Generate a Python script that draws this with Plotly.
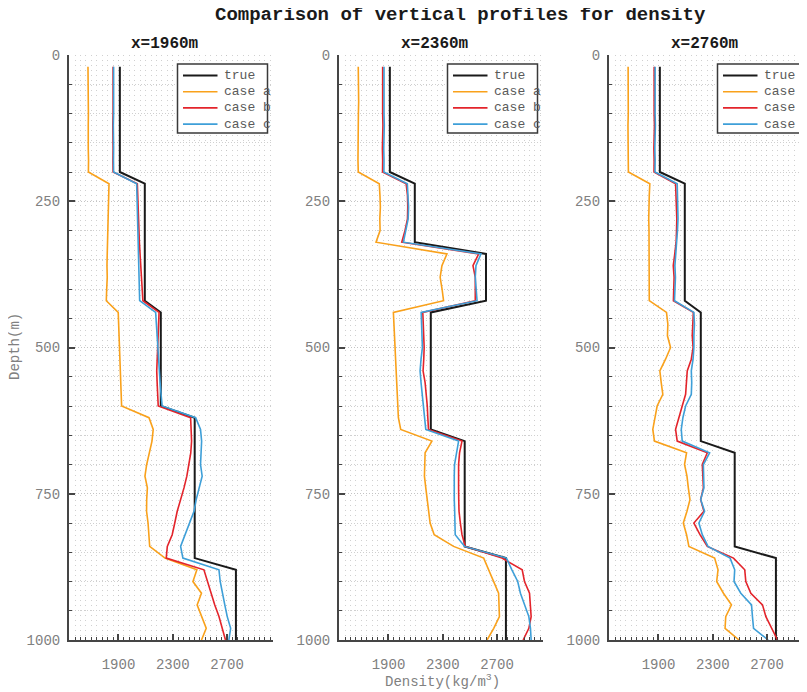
import plotly.graph_objects as go

# ---------------- data ----------------
depth = [20, 40, 60, 80, 100, 120, 140, 160, 180, 200,
         220, 240, 260, 280, 300, 320, 340, 360, 380, 400,
         420, 440, 460, 480, 500, 520, 540, 560, 580, 600,
         620, 640, 660, 680, 700, 720, 740, 760, 780, 800,
         820, 840, 860, 880, 900, 920, 940, 960, 980, 1000]

panel_titles = ["x=1960m", "x=2360m", "x=2760m"]
series_names = ["true", "case a", "case b", "case c"]

true_1960 = [1910, 1910, 1910, 1910, 1910, 1910, 1910, 1910, 1910, 1910,
             2094, 2094, 2094, 2094, 2094, 2094, 2094, 2094, 2094, 2094,
             2094, 2212, 2212, 2212, 2212, 2212, 2212, 2212, 2212, 2212,
             2462, 2462, 2462, 2462, 2462, 2462, 2462, 2462, 2462, 2462,
             2462, 2462, 2462, 2766, 2766, 2766, 2766, 2766, 2766, 2766]
a_1960 = [1675, 1677, 1677, 1679, 1678, 1677, 1675, 1677, 1679, 1678,
          1830, 1827, 1824, 1822, 1820, 1818, 1817, 1815, 1817, 1813,
          1810, 1898, 1901, 1903, 1906, 1909, 1911, 1916, 1921, 1923,
          2125, 2156, 2147, 2125, 2108, 2095, 2113, 2108, 2107, 2118,
          2123, 2130, 2243, 2478, 2449, 2512, 2480, 2515, 2547, 2512]
b_1960 = [1860, 1861, 1860, 1859, 1860, 1858, 1861, 1860, 1859, 1860,
          2039, 2041, 2044, 2049, 2051, 2054, 2059, 2064, 2069, 2074,
          2080, 2199, 2195, 2192, 2187, 2186, 2182, 2185, 2189, 2193,
          2432, 2438, 2439, 2433, 2419, 2404, 2383, 2359, 2333, 2315,
          2296, 2260, 2252, 2530, 2556, 2579, 2610, 2641, 2665, 2689]
c_1960 = [1864, 1865, 1864, 1863, 1864, 1862, 1865, 1864, 1863, 1864,
          2034, 2036, 2039, 2039, 2041, 2042, 2044, 2047, 2049, 2052,
          2056, 2174, 2179, 2182, 2187, 2192, 2197, 2207, 2214, 2222,
          2469, 2505, 2513, 2507, 2505, 2517, 2493, 2473, 2457, 2423,
          2390, 2358, 2375, 2641, 2650, 2665, 2684, 2702, 2727, 2714]

true_2360 = [1910, 1910, 1910, 1910, 1910, 1910, 1910, 1910, 1910, 1910,
             2094, 2094, 2094, 2094, 2094, 2094, 2619, 2619, 2619, 2619,
             2619, 2212, 2212, 2212, 2212, 2212, 2212, 2212, 2212, 2212,
             2212, 2212, 2462, 2462, 2462, 2462, 2462, 2462, 2462, 2462,
             2462, 2462, 2766, 2766, 2766, 2766, 2766, 2766, 2766, 2766]
a_2360 = [1677, 1679, 1676, 1680, 1678, 1676, 1679, 1677, 1675, 1677,
          1832, 1837, 1840, 1836, 1838, 1808, 2331, 2294, 2281, 2295,
          2306, 1936, 1940, 1945, 1948, 1950, 1955, 1960, 1965, 1970,
          1973, 1990, 2220, 2170, 2168, 2165, 2175, 2187, 2195, 2207,
          2237, 2380, 2602, 2640, 2676, 2712, 2715, 2718, 2676, 2627]
b_2360 = [1857, 1856, 1858, 1855, 1857, 1859, 1856, 1855, 1857, 1856,
          2030, 2040, 2042, 2040, 2022, 1998, 2565, 2523, 2540, 2538,
          2540, 2153, 2158, 2160, 2163, 2160, 2155, 2170, 2180, 2186,
          2190, 2195, 2442, 2424, 2417, 2415, 2417, 2418, 2420, 2430,
          2442, 2466, 2737, 2886, 2903, 2940, 2945, 2952, 2935, 2893]
c_2360 = [1867, 1866, 1868, 1865, 1867, 1869, 1866, 1865, 1867, 1866,
          2039, 2045, 2048, 2045, 2030, 2010, 2582, 2545, 2540, 2545,
          2553, 2141, 2145, 2148, 2150, 2140, 2133, 2140, 2150, 2158,
          2165, 2175, 2417, 2400, 2387, 2385, 2383, 2385, 2388, 2390,
          2392, 2461, 2770, 2810, 2853, 2873, 2905, 2935, 2947, 2952]

true_2760 = [1910, 1910, 1910, 1910, 1910, 1910, 1910, 1910, 1910, 1910,
             2094, 2094, 2094, 2094, 2094, 2094, 2094, 2094, 2094, 2094,
             2094, 2212, 2212, 2212, 2212, 2212, 2212, 2212, 2212, 2212,
             2212, 2212, 2212, 2462, 2462, 2462, 2462, 2462, 2462, 2462,
             2462, 2462, 2766, 2766, 2766, 2766, 2766, 2766, 2766, 2766]
a_2760 = [1676, 1677, 1678, 1676, 1677, 1675, 1674, 1676, 1677, 1678,
          1836, 1832, 1828, 1828, 1830, 1830, 1831, 1832, 1833, 1832,
          1832, 1959, 1969, 1966, 1989, 1952, 1910, 1920, 1932, 1890,
          1875, 1858, 1870, 2107, 2092, 2110, 2120, 2132, 2110, 2083,
          2107, 2124, 2314, 2339, 2329, 2379, 2438, 2396, 2391, 2494]
b_2760 = [1868, 1867, 1869, 1866, 1868, 1870, 1867, 1866, 1868, 1867,
          2026, 2030, 2033, 2035, 2033, 2030, 2020, 2009, 2015, 2012,
          2010, 2157, 2152, 2149, 2155, 2142, 2112, 2105, 2100, 2075,
          2050, 2026, 2038, 2260, 2223, 2228, 2231, 2211, 2235, 2161,
          2206, 2260, 2453, 2536, 2544, 2581, 2667, 2692, 2734, 2778]
c_2760 = [1875, 1874, 1876, 1873, 1875, 1877, 1874, 1873, 1875, 1874,
          2038, 2040, 2042, 2044, 2040, 2035, 2028, 2021, 2025, 2020,
          2018, 2161, 2165, 2161, 2161, 2155, 2142, 2145, 2142, 2100,
          2080, 2068, 2075, 2277, 2231, 2233, 2235, 2211, 2240, 2198,
          2223, 2265, 2428, 2462, 2457, 2507, 2586, 2593, 2601, 2709]

x_ticks = [1900, 2300, 2700]
y_ticks = [0, 250, 500, 750, 1000]

panels = [
    [true_1960, a_1960, b_1960, c_1960],
    [true_2360, a_2360, b_2360, c_2360],
    [true_2760, a_2760, b_2760, c_2760],
]

# ---------------- style ----------------
WIN_W, WIN_H = 807, 692
OFF = 8                      # page body margin
W, H = WIN_W - OFF, WIN_H - OFF
colors = ["#1a1a1a", "#f9a11b", "#e3242b", "#3e9fd8"]
widths = [2.0, 1.6, 1.6, 1.6]
mono = "Liberation Mono, Courier New, monospace"
axis_col = "#454545"
tick_font = dict(family=mono, size=14, color="#808080")
grid_major = "#c4c4c4"
grid_minor = "#d0d0d0"

ax_left = [69, 339, 609]      # window pixel coordinates
ax_width = 204
x_lo = 1535
px_per_unit = 0.1356
y_top, y_bot = 55, 640


def fx(px):
    return (px - OFF) / W


def fy(py):
    return 1 - (py - OFF) / H


fig = go.Figure()
layout = dict(
    width=W, height=H,
    paper_bgcolor="white", plot_bgcolor="white",
    margin=dict(l=0, r=0, t=0, b=0, autoexpand=False),
    showlegend=False,
)

shapes = []
annotations = []

for i, series in enumerate(panels):
    xa = "xaxis" if i == 0 else f"xaxis{i+1}"
    ya = "yaxis" if i == 0 else f"yaxis{i+1}"
    xr = "x" if i == 0 else f"x{i+1}"
    yr = "y" if i == 0 else f"y{i+1}"
    left = ax_left[i]
    right = min(left + ax_width, WIN_W)
    x_hi = x_lo + (right - left) / px_per_unit

    for k, vals in enumerate(series):
        fig.add_trace(go.Scatter(
            x=vals, y=depth, mode="lines", name=series_names[k],
            line=dict(color=colors[k], width=widths[k]),
            xaxis=xr, yaxis=yr, showlegend=False,
        ))

    layout[xa] = dict(
        domain=[fx(left), min(fx(right), 1.0)], range=[x_lo, x_hi], anchor=yr,
        tickvals=x_ticks, ticks="inside", ticklen=6, tickwidth=1.5,
        tickcolor=axis_col, showline=True, linecolor=axis_col, linewidth=2,
        showgrid=True, gridcolor=grid_major, gridwidth=1, griddash="1px,4px",
        zeroline=False, tickfont=tick_font, ticklabelstandoff=10,
        minor=dict(tick0=1900, dtick=40, ticks="inside", ticklen=3,
                   tickwidth=1, tickcolor=axis_col, showgrid=True,
                   gridcolor=grid_minor, gridwidth=1, griddash="1px,4px"),
    )
    layout[ya] = dict(
        domain=[fy(y_bot), fy(y_top)], range=[1000, 0], anchor=xr,
        tickvals=y_ticks, ticks="inside", ticklen=6, tickwidth=1.5,
        tickcolor=axis_col, showline=True, linecolor=axis_col, linewidth=2,
        showgrid=True, gridcolor=grid_major, gridwidth=1, griddash="1px,2px",
        zeroline=False, tickfont=tick_font, ticklabelstandoff=4,
        minor=dict(dtick=50, ticks="inside", ticklen=3, tickwidth=1,
                   tickcolor=axis_col, showgrid=True, gridcolor=grid_minor,
                   gridwidth=1, griddash="1px,2px"),
    )

    # subplot title
    annotations.append(dict(
        text=f"<b>{panel_titles[i]}</b>", x=fx(left + ax_width / 2 - 6), y=fy(44),
        xref="paper", yref="paper", showarrow=False, xanchor="center",
        yanchor="middle", font=dict(family=mono, size=16, color="#1a1a1a"),
    ))

    # legend box
    lb_l = left + 108.5
    lb_r = lb_l + 90
    shapes.append(dict(type="rect", xref="paper", yref="paper",
                       x0=fx(lb_l), x1=fx(lb_r), y0=fy(133), y1=fy(64),
                       line=dict(color="#3a3a3a", width=1.5),
                       fillcolor="white", layer="above"))
    for k in range(4):
        yy = 75.5 + 16.2 * k
        shapes.append(dict(type="line", xref="paper", yref="paper",
                           x0=fx(lb_l + 5.5), x1=fx(lb_l + 40),
                           y0=fy(yy), y1=fy(yy),
                           line=dict(color=colors[k], width=widths[k]),
                           layer="above"))
        annotations.append(dict(
            text=series_names[k], x=fx(lb_l + 44.5), y=fy(yy),
            xref="paper", yref="paper", showarrow=False,
            xanchor="left", yanchor="middle",
            font=dict(family=mono, size=13, color="#5a5a5a"),
        ))

# main title and axis titles
annotations.append(dict(
    text="<b>Comparison of vertical profiles for density</b>",
    x=fx(460), y=fy(15), xref="paper", yref="paper", showarrow=False,
    xanchor="center", yanchor="middle",
    font=dict(family=mono, size=19, color="#1a1a1a"),
))
annotations.append(dict(
    text="Depth(m)", x=fx(15), y=fy(347), xref="paper", yref="paper",
    showarrow=False, textangle=-90, xanchor="center", yanchor="middle",
    font=dict(family=mono, size=14, color="#808080"),
))
annotations.append(dict(
    text="Density(kg/m<sup>3</sup>)", x=fx(442), y=fy(681),
    xref="paper", yref="paper", showarrow=False,
    xanchor="center", yanchor="middle",
    font=dict(family=mono, size=14, color="#808080"),
))

layout["shapes"] = shapes
layout["annotations"] = annotations
fig.update_layout(**layout)
fig.write_html("out.html")
